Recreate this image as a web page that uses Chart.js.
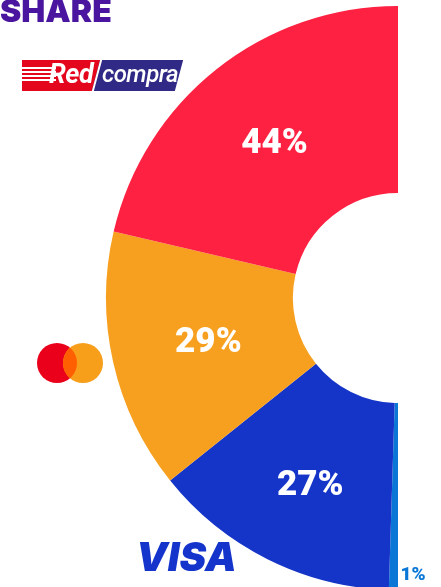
<!DOCTYPE html>
<html>
<head>
<meta charset="utf-8">
<script src="https://cdn.jsdelivr.net/npm/chart.js@4"></script>
<style>
    html, body { margin: 0; padding: 0; background: #fff; }
    #wrap { position: relative; width: 441px; height: 587px; overflow: hidden; }
    #chart { position: absolute; left: 0; top: 0; }
    .share {
        position: absolute; left: 0; top: -9px;
        font: 900 32px 'Inter', 'Lato', sans-serif;
        color: #4a159f;
    }
    .redcompra { position: absolute; left: 22px; top: 60px; width: 160px; height: 31px; }
    .rc-red {
        position: absolute; left: 0; top: 0; width: 76px; height: 31px;
        background: #e4061c;
    }
    .rc-red::after {
        content: ''; position: absolute; right: -8px; top: 0; width: 16px; height: 31px;
        background: #e4061c; transform: skewX(-15deg);
    }
    .rc-stripes { position: absolute; left: 0; top: 7px; width: 34px; }
    .rc-stripes div { height: 2px; background: #fff; margin-bottom: 2px; }
    .rc-blue {
        position: absolute; left: 74px; top: 0; width: 81px; height: 31px;
        background: #302a86; transform: skewX(-15deg);
        border-left: 2px solid #fff;
    }
    .rc-text {
        position: absolute; top: -2px;
        font: italic 700 27px 'Roboto', 'Liberation Sans', sans-serif; color: #fff;
        letter-spacing: -0.5px;
    }
    .mc { position: absolute; width: 40px; height: 40px; border-radius: 50%; top: 343px; overflow: hidden; }
    .mc-lens { position: absolute; left: -26px; top: 0; width: 40px; height: 40px; border-radius: 50%; background: #ff5f00; }
    .visa {
        position: absolute; left: 136px; top: 532px;
        font: italic 900 40px 'Inter', 'Lato', sans-serif; color: #1434cb;
    }
</style>
</head>
<body>
<div id="wrap">
    <canvas id="chart" width="441" height="587"></canvas>
    <div class="share">SHARE</div>
    <div class="redcompra">
        <div class="rc-red"></div>
        <div class="rc-stripes"><div></div><div></div><div></div><div></div></div>
        <div class="rc-blue"></div>
        <div class="rc-text" style="left: 27px;">Red</div>
        <div class="rc-text" style="left: 80px; font-weight: 500; font-size: 24px; top: 0;">compra</div>
    </div>
    <div class="mc" style="left: 37px; background: #eb001b;"></div>
    <div class="mc" style="left: 63px; background: #f79e1b;"><div class="mc-lens"></div></div>
    <div class="visa">VISA</div>
</div>
<script>
const categories = ['Otras', 'Visa', 'Mastercard', 'Redcompra'];
// slice sizes as drawn in the picture; the printed labels are kept as they appear
const shareValues = [1, 27.5, 28.8, 42.7];
const shareLabels = ['1%', '27%', '29%', '44%'];
const sliceColors = ['#0a77d6', '#1535c9', '#f7a01f', '#ff2142'];

const sliceLabels = {
    id: 'sliceLabels',
    afterDatasetsDraw(chart) {
        const ctx = chart.ctx;
        const arcs = chart.getDatasetMeta(0).data;
        // small hand nudges so the labels sit where the original puts them
        const nudge = [[0, 0], [1, 13], [4, 3], [0, 4]];
        ctx.save();
        ctx.textAlign = 'center';
        ctx.textBaseline = 'middle';
        arcs.forEach((arc, i) => {
            if (shareValues[i] < 5) {
                ctx.fillStyle = '#0a77d6';
                ctx.font = '900 19px Roboto, sans-serif';
                ctx.fillText(shareLabels[i], arc.x + 15, arc.y + arc.outerRadius * 0.95);
            } else {
                const pos = arc.tooltipPosition();
                ctx.fillStyle = '#ffffff';
                ctx.font = '900 35px Roboto, sans-serif';
                ctx.fillText(shareLabels[i], pos.x + nudge[i][0], pos.y - 2 + nudge[i][1]);
            }
        });
        ctx.restore();
    }
};

new Chart(document.getElementById('chart'), {
    type: 'doughnut',
    data: {
        labels: categories,
        datasets: [{
            data: shareValues,
            backgroundColor: sliceColors,
            borderWidth: 0,
            clip: false
        }]
    },
    options: {
        responsive: false,
        animation: false,
        rotation: 180,
        circumference: 180,
        radius: 292,
        cutout: '36%',
        layout: { padding: { left: 63, right: 0, top: 9, bottom: 0 } },
        plugins: {
            legend: { display: false },
            tooltip: { enabled: false }
        }
    },
    plugins: [sliceLabels]
});
</script>
</body>
</html>
